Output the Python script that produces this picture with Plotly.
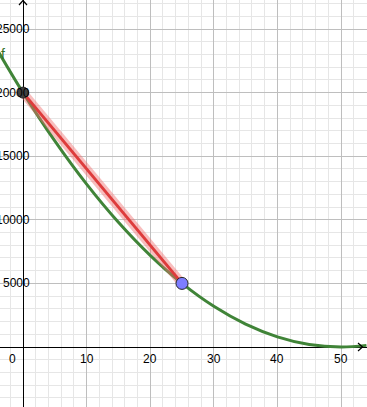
import plotly.graph_objects as go

# Data
curve_x = [-4, 0, 5, 10, 15, 20, 25, 30, 35, 40, 45, 50, 54]
curve_y = [23328, 20000, 16200, 12800, 9800, 7200, 5000, 3200, 1800, 800, 200, 0, 128]
secant_x = [0, 25]
secant_y = [20000, 5000]
point_a = (0, 20000)
point_b = (25, 5000)
x_ticks = [10, 20, 30, 40, 50]
y_ticks = [5000, 10000, 15000, 20000, 25000]

W, H = 367, 407
X0PX, XS = 23.0, 6.36        # pixel of x=0, px per unit
Y0PX, YS = 347.0, 318/25000  # pixel of y=0, px per unit
xr = [-X0PX / XS, (W - X0PX) / XS]
yr = [-(H - Y0PX) / YS, Y0PX / YS]

def px2x(p): return (p - X0PX) / XS
def px2y(p): return (Y0PX - p) / YS

green = "rgb(64,132,56)"
fig = go.Figure()
fig.add_trace(go.Scatter(x=curve_x, y=curve_y, mode="lines",
                         line=dict(color=green, width=3, shape="spline"),
                         hoverinfo="skip"))
fig.add_trace(go.Scatter(x=secant_x, y=secant_y, mode="lines",
                         line=dict(color="rgba(240,110,110,0.45)", width=9),
                         hoverinfo="skip"))
fig.add_trace(go.Scatter(x=secant_x, y=secant_y, mode="lines",
                         line=dict(color="rgb(222,60,60)", width=3),
                         hoverinfo="skip"))
fig.add_trace(go.Scatter(x=[point_a[0]], y=[point_a[1]], mode="markers",
                         marker=dict(color="rgb(64,64,64)", size=11,
                                     line=dict(color="rgb(40,40,40)", width=1)),
                         hoverinfo="skip"))
fig.add_trace(go.Scatter(x=[point_b[0]], y=[point_b[1]], mode="markers",
                         marker=dict(color="rgb(125,125,255)", size=12,
                                     line=dict(color="rgb(40,40,40)", width=1)),
                         hoverinfo="skip"))

ann = []
fnt = dict(family="Liberation Sans, Arial, sans-serif", size=12, color="black")
for t in x_ticks:
    ann.append(dict(x=t, y=px2y(359), text=str(t), showarrow=False,
                    xanchor="center", yanchor="middle", font=fnt))
ann.append(dict(x=px2x(12), y=px2y(359), text="0", showarrow=False,
                xanchor="center", yanchor="middle", font=fnt))
for t in y_ticks:
    ann.append(dict(x=px2x(32), y=t, text=str(t), showarrow=False,
                    xanchor="right", yanchor="middle", font=fnt))
ann.append(dict(x=px2x(3), y=px2y(54), text="f", showarrow=False,
                xanchor="center", yanchor="middle",
                font=dict(family="Liberation Sans, Arial, sans-serif", size=14,
                          color="rgb(50,110,40)")))

shapes = [
    dict(type="path", xref="x", yref="y",
         path=f"M {px2x(19)} {px2y(5)} L {px2x(23)} {px2y(0.5)} L {px2x(27)} {px2y(5)}",
         line=dict(color="black", width=1.2)),
    dict(type="path", xref="x", yref="y",
         path=f"M {px2x(358)} {px2y(343)} L {px2x(362.5)} {px2y(347)} L {px2x(358)} {px2y(351)}",
         line=dict(color="black", width=1.2)),
]

axis_common = dict(showticklabels=False, ticks="", zeroline=True,
                   zerolinecolor="black", zerolinewidth=1.2,
                   showgrid=True, gridcolor="rgb(190,190,190)", gridwidth=1,
                   showline=False, fixedrange=True)
fig.update_layout(
    width=W, height=H, autosize=False,
    margin=dict(l=0, r=0, t=0, b=0, pad=0),
    paper_bgcolor="white", plot_bgcolor="white",
    showlegend=False,
    xaxis=dict(range=xr, tick0=0, dtick=10,
               minor=dict(dtick=2, showgrid=True, gridcolor="rgb(230,230,230)", gridwidth=1),
               **axis_common),
    yaxis=dict(range=yr, tick0=0, dtick=5000,
               minor=dict(dtick=1000, showgrid=True, gridcolor="rgb(230,230,230)", gridwidth=1),
               **axis_common),
    annotations=ann, shapes=shapes,
)
fig.write_html("out.html", config=dict(displayModeBar=False))
